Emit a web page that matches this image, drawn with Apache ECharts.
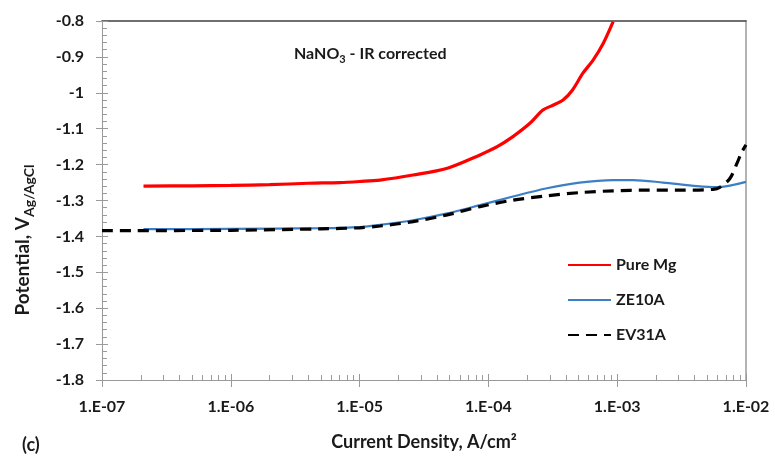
<!DOCTYPE html>
<html>
<head>
<meta charset="utf-8">
<script src="https://cdn.jsdelivr.net/npm/echarts@6.0.0/dist/echarts.min.js"></script>
<style>
  html, body { margin: 0; padding: 0; background: #fff; }
  #chart { width: 775px; height: 457px; }
</style>
</head>
<body>
<div id="chart"></div>
<script>
// polarisation curves: [current density A/cm2, potential V]
const pureMg = [
  [2.1e-7, -1.260], [5e-7, -1.259], [1e-6, -1.258], [2e-6, -1.256], [4e-6, -1.252],
  [7e-6, -1.250], [1e-5, -1.247], [1.44e-5, -1.243], [2.6e-5, -1.229], [4.8e-5, -1.210],
  [8.6e-5, -1.173], [1.17e-4, -1.150], [1.55e-4, -1.122], [2.1e-4, -1.085], [2.65e-4, -1.048],
  [3.2e-4, -1.034], [3.8e-4, -1.020], [4.5e-4, -0.992], [5.4e-4, -0.946], [6.5e-4, -0.909],
  [7.8e-4, -0.862], [9.3e-4, -0.802]
]
const ze10a = [
  [2.1e-7, -1.380], [1e-6, -1.379], [5e-6, -1.377], [1e-5, -1.374], [1.44e-5, -1.368],
  [2.6e-5, -1.355], [4.8e-5, -1.336], [8.6e-5, -1.313], [1.55e-4, -1.289], [2.85e-4, -1.266],
  [5.1e-4, -1.250], [9.3e-4, -1.243], [1.33e-3, -1.243], [2.27e-3, -1.250], [4.17e-3, -1.260],
  [5.96e-3, -1.263], [1e-2, -1.248]
]
const ev31a = [
  [1e-7, -1.384], [1e-6, -1.383], [5e-6, -1.379], [1e-5, -1.376], [1.44e-5, -1.371],
  [2.6e-5, -1.359], [4.8e-5, -1.340], [8.6e-5, -1.317], [1.55e-4, -1.299], [2.85e-4, -1.287],
  [5.1e-4, -1.278], [9.3e-4, -1.273], [1.7e-3, -1.271], [3.08e-3, -1.271], [5.55e-3, -1.269],
  [6.29e-3, -1.263], [7.52e-3, -1.238], [8.52e-3, -1.196], [9.31e-3, -1.164], [1e-2, -1.145]
]
const seriesNames = ['Pure Mg', 'ZE10A', 'EV31A']

const font = 'Lato'
const ink = '#1a1a1a'
const axisGray = '#9a9a9a'

function expLabel(v) {
  const e = Math.round(Math.log10(v))
  return '1.E' + (e < 0 ? '-' : '+') + String(Math.abs(e)).padStart(2, '0')
}

const logBase = { type: 'log', logBase: 10, min: 1e-7, max: 1e-2, gridIndex: 0 }
const yBase = { type: 'value', min: -1.8, max: -0.8, interval: 0.1, splitLine: { show: false } }

const chart = echarts.init(document.getElementById('chart'))
chart.setOption({
  animation: false,
  textStyle: { fontFamily: font },
  title: [
    {
      text: '{a|NaNO}{s|3}{a| - IR corrected}',
      left: 289, top: 41,
      textStyle: {
        rich: {
          a: { fontFamily: font, fontSize: 16, fontWeight: 'bold', color: ink, lineHeight: 19, verticalAlign: 'top' },
          s: { fontFamily: font, fontSize: 11, fontWeight: 'bold', color: ink, lineHeight: 11, padding: [13, 0, 0, 0], verticalAlign: 'bottom' }
        }
      }
    },
    {
      text: '(c)',
      left: 17, top: 431,
      textStyle: { fontFamily: font, fontSize: 18, fontWeight: 'bold', color: ink }
    }
  ],
  // y axis title sits lower than the plot middle in the original, so it is placed by hand
  graphic: [
    {
      type: 'text',
      x: 25, y: 240,
      rotation: Math.PI / 2,
      style: {
        text: '{a|Potential, V}{s|Ag/AgCl}',
        align: 'center',
        verticalAlign: 'middle',
        rich: {
          a: { fontFamily: font, fontSize: 19, fontWeight: 'bold', fill: ink, lineHeight: 23, verticalAlign: 'top' },
          s: { fontFamily: font, fontSize: 14, fontWeight: 'bold', fill: ink, lineHeight: 14, padding: [15, 0, 0, 0], verticalAlign: 'bottom' }
        }
      }
    }
  ],
  grid: { left: 102, right: 29, top: 21, bottom: 77, containLabel: false },
  legend: {
    data: seriesNames,
    orient: 'vertical',
    left: 567, top: 257, padding: 0,
    itemWidth: 43, itemHeight: 14, itemGap: 19,
    itemStyle: { opacity: 0 },
    textStyle: { fontFamily: font, fontSize: 16, fontWeight: 'bold', color: ink }
  },
  xAxis: [
    Object.assign({}, logBase, {
      position: 'bottom',
      axisLine: { show: true, lineStyle: { color: axisGray, width: 1 } },
      axisTick: { show: true, inside: false, length: 7, lineStyle: { color: axisGray } },
      axisLabel: { formatter: expLabel, fontFamily: font, fontSize: 16, fontWeight: 'bold', color: ink, margin: 19 },
      splitLine: { show: false },
      name: 'Current Density, A/cm²',
      nameLocation: 'middle',
      nameGap: 53,
      nameTextStyle: { fontFamily: font, fontSize: 18, fontWeight: 'bold', color: ink }
    }),
    Object.assign({}, logBase, {
      position: 'bottom',
      axisLine: { show: false },
      axisTick: { show: true, inside: true, length: 6, lineStyle: { color: axisGray } },
      minorTick: { show: true, splitNumber: 9, length: 5, lineStyle: { color: axisGray } },
      axisLabel: { show: false },
      splitLine: { show: false }
    }),
    Object.assign({}, logBase, {
      position: 'top',
      axisLine: { show: true, lineStyle: { color: '#404040', width: 1.5 } },
      axisTick: { show: false },
      axisLabel: { show: false },
      splitLine: { show: false }
    })
  ],
  yAxis: [
    Object.assign({}, yBase, {
      position: 'left',
      axisLine: { show: true, lineStyle: { color: axisGray, width: 1 } },
      axisTick: { show: true, inside: false, length: 6, lineStyle: { color: axisGray } },
      axisLabel: { fontFamily: font, fontSize: 16, fontWeight: 'bold', color: ink, margin: 18 }
    }),
    Object.assign({}, yBase, {
      position: 'left',
      axisLine: { show: false },
      axisTick: { show: true, inside: true, length: 6, lineStyle: { color: axisGray } },
      minorTick: { show: true, splitNumber: 5, length: 5, lineStyle: { color: axisGray } },
      axisLabel: { show: false }
    }),
    Object.assign({}, yBase, {
      position: 'right',
      axisLine: { show: true, lineStyle: { color: axisGray, width: 1.5 } },
      axisTick: { show: false },
      axisLabel: { show: false }
    })
  ],
  series: [
    {
      name: seriesNames[0], type: 'line', data: pureMg, symbol: 'none', smooth: 0.3,
      color: '#ff0000', lineStyle: { width: 3.2 }, clip: true
    },
    {
      name: seriesNames[1], type: 'line', data: ze10a, symbol: 'none', smooth: 0.3,
      color: '#3c7fc5', lineStyle: { width: 2.2 }, clip: true
    },
    {
      name: seriesNames[2], type: 'line', data: ev31a, symbol: 'none', smooth: 0.3,
      color: '#000000', lineStyle: { width: 3.2, type: [11, 7] }, clip: true
    }
  ]
})
</script>
</body>
</html>
